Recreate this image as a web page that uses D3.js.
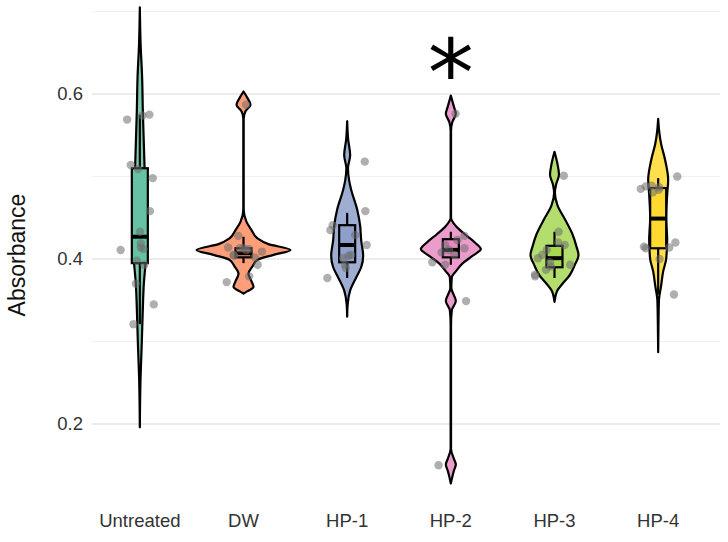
<!DOCTYPE html>
<html><head><meta charset="utf-8">
<script src="https://cdn.jsdelivr.net/npm/d3@7"></script>
<style>body{margin:0;background:#fff}svg{font-family:"Liberation Sans",Arial,sans-serif}</style>
</head><body><svg id="c" width="728" height="542"></svg>
<script>
const categories=["Untreated","DW","HP-1","HP-2","HP-3","HP-4"];
const colors=["#66c2a5","#fc8d62","#8da0cb","#e78ac3","#a6d854","#ffd92f"];
const yTicks=[0.2,0.4,0.6];
const yMinor=[0.3,0.5,0.7];
// violin density profiles: [value, relative density]
const violinUntreated=[[0.705,0],[0.66,0.8],[0.62,2.3],[0.58,3],[0.54,4],[0.5,5],[0.46,6],[0.43,6.5],[0.40,6],[0.37,4],[0.34,3],[0.30,2],[0.25,0.6],[0.196,0]];
const violinDW=[[0.603,0],[0.595,4],[0.587,7],[0.579,2],[0.57,0.2],[0.46,0.2],[0.445,3],[0.435,8],[0.425,14],[0.418,25],[0.411,47],[0.405,30],[0.399,14],[0.391,9],[0.382,5],[0.373,8],[0.366,10],[0.361,4],[0.358,0]];
const violinHP1=[[0.567,0],[0.545,1],[0.526,3],[0.51,0.8],[0.495,2],[0.484,4],[0.46,10],[0.44,13],[0.423,14],[0.404,16],[0.39,14],[0.38,10],[0.362,3],[0.345,0.5],[0.33,0]];
const violinHP2=[[0.598,0],[0.585,3],[0.576,5],[0.566,1.5],[0.555,0.2],[0.45,0.2],[0.44,5],[0.43,14],[0.42,24],[0.412,30],[0.404,22],[0.395,12],[0.385,5],[0.378,1],[0.365,0.5],[0.349,5],[0.338,1],[0.32,0.2],[0.17,0.2],[0.158,3],[0.151,5],[0.143,3],[0.128,0]];
const violinHP3=[[0.53,0],[0.515,3],[0.502,4.5],[0.49,1.5],[0.48,0.4],[0.465,3],[0.447,11],[0.43,18],[0.415,22],[0.405,24],[0.392,20],[0.38,15],[0.37,8],[0.362,3],[0.348,0]];
const violinHP4=[[0.57,0],[0.555,1],[0.539,3],[0.525,6],[0.514,8],[0.496,10],[0.478,9],[0.45,8],[0.423,9],[0.40,8],[0.385,5],[0.368,3],[0.35,0.8],[0.32,0.3],[0.287,0]];
const violins=[violinUntreated,violinDW,violinHP1,violinHP2,violinHP3,violinHP4];
// boxplot stats: [whiskerLow, q1, median, q3, whiskerHigh]
const boxUntreated=[0.321,0.395,0.427,0.51,0.575];
const boxDW=[0.395,0.402,0.407,0.413,0.427];
const boxHP1=[0.377,0.396,0.417,0.441,0.456];
const boxHP2=[0.393,0.402,0.411,0.424,0.433];
const boxHP3=[0.377,0.39,0.401,0.416,0.433];
const boxHP4=[0.357,0.413,0.449,0.486,0.498];
const boxes=[boxUntreated,boxDW,boxHP1,boxHP2,boxHP3,boxHP4];
// raw observations
const ptsUntreated=[0.569,0.575,0.574,0.509,0.514,0.498,0.458,0.433,0.419,0.414,0.411,0.412,0.393,0.370,0.345,0.321,0.398];
const ptsDW=[0.587,0.428,0.413,0.411,0.414,0.412,0.409,0.405,0.404,0.402,0.393,0.379,0.372,0.413];
const ptsHP1=[0.518,0.458,0.441,0.429,0.435,0.417,0.404,0.401,0.405,0.393,0.389,0.377];
const ptsHP2=[0.576,0.423,0.428,0.417,0.413,0.411,0.408,0.405,0.396,0.393,0.349,0.15];
const ptsHP3=[0.501,0.433,0.417,0.42,0.411,0.405,0.401,0.396,0.393,0.391,0.387,0.381,0.379];
const ptsHP4=[0.5,0.489,0.488,0.487,0.485,0.484,0.481,0.415,0.414,0.413,0.40,0.357,0.42];
const points=[ptsUntreated,ptsDW,ptsHP1,ptsHP2,ptsHP3,ptsHP4];
const annotation={category:"HP-2",label:"*"};

const svg=d3.select("#c");
const x=d3.scaleBand().domain(categories).range([88,710]);
const y=d3.scaleLinear().domain([0.4,0.6]).range([259,94]);
const wScale=d3.scaleLinear().domain([0,1]).range([0,1]);
const g=svg.append("g");
yMinor.forEach(v=>g.append("line").attr("x1",92).attr("x2",720).attr("y1",y(v)).attr("y2",y(v)).attr("stroke","#f0f0f0").attr("stroke-width",1));
yTicks.forEach(v=>g.append("line").attr("x1",92).attr("x2",720).attr("y1",y(v)).attr("y2",y(v)).attr("stroke","#e6e6e6").attr("stroke-width",1.6));
const yAxis=d3.axisLeft(y).tickValues(yTicks).tickFormat(d3.format(".1f")).tickSize(0).tickPadding(9);
const ya=svg.append("g").attr("transform","translate(92,0)").call(yAxis);
ya.select(".domain").remove();
ya.selectAll("text").attr("font-size",18.5).attr("fill","#333").attr("font-family","Liberation Sans, Arial");
const xAxis=d3.axisBottom(x).tickSize(0).tickPadding(9);
const xa=svg.append("g").attr("transform","translate(0,505)").call(xAxis);
xa.select(".domain").remove();
xa.selectAll("text").attr("font-size",18.5).attr("fill","#333").attr("font-family","Liberation Sans, Arial");
svg.append("text").attr("transform","translate(25,255) rotate(-90)").attr("text-anchor","middle").attr("font-size",23).attr("fill","#111").text("Absorbance");

const hash=i=>{const s=Math.sin(i*12.9898+78.233)*43758.5453;return s-Math.floor(s);};
categories.forEach((c,i)=>{
  const cx=x(c)+x.bandwidth()/2;
  const area=d3.area().y(d=>y(d[0])).x0(d=>cx-wScale(d[1])).x1(d=>cx+wScale(d[1])).curve(d3.curveMonotoneY);
  const sorted=violins[i].slice().sort((a,b)=>a[0]-b[0]);
  g.append("path").datum(sorted).attr("d",area).attr("fill",colors[i]).attr("fill-opacity",0.85).attr("stroke","#000").attr("stroke-width",2.2).attr("stroke-linejoin","round");
  const b=boxes[i],bw=8;
  g.append("line").attr("x1",cx).attr("x2",cx).attr("y1",y(b[0])).attr("y2",y(b[4])).attr("stroke","#000").attr("stroke-width",2.2);
  g.append("rect").attr("x",cx-bw).attr("width",bw*2).attr("y",y(b[3])).attr("height",y(b[1])-y(b[3])).attr("fill",colors[i]).attr("stroke","#000").attr("stroke-width",2.2);
  g.append("line").attr("x1",cx-bw).attr("x2",cx+bw).attr("y1",y(b[2])).attr("y2",y(b[2])).attr("stroke","#000").attr("stroke-width",4);
  points[i].forEach((v,j)=>{
    const dx=(hash(i*31+j)-0.5)*2*20;
    g.append("circle").attr("cx",cx+dx).attr("cy",y(v)).attr("r",4.2).attr("fill","#6e6e6e").attr("fill-opacity",0.55);
  });
  if(c===annotation.category){
    svg.append("text").attr("x",cx).attr("y",y(0.6)+12).attr("text-anchor","middle").attr("font-size",92).attr("font-family","DejaVu Sans").attr("fill","#000").text(annotation.label);
  }
});
</script></body></html>
